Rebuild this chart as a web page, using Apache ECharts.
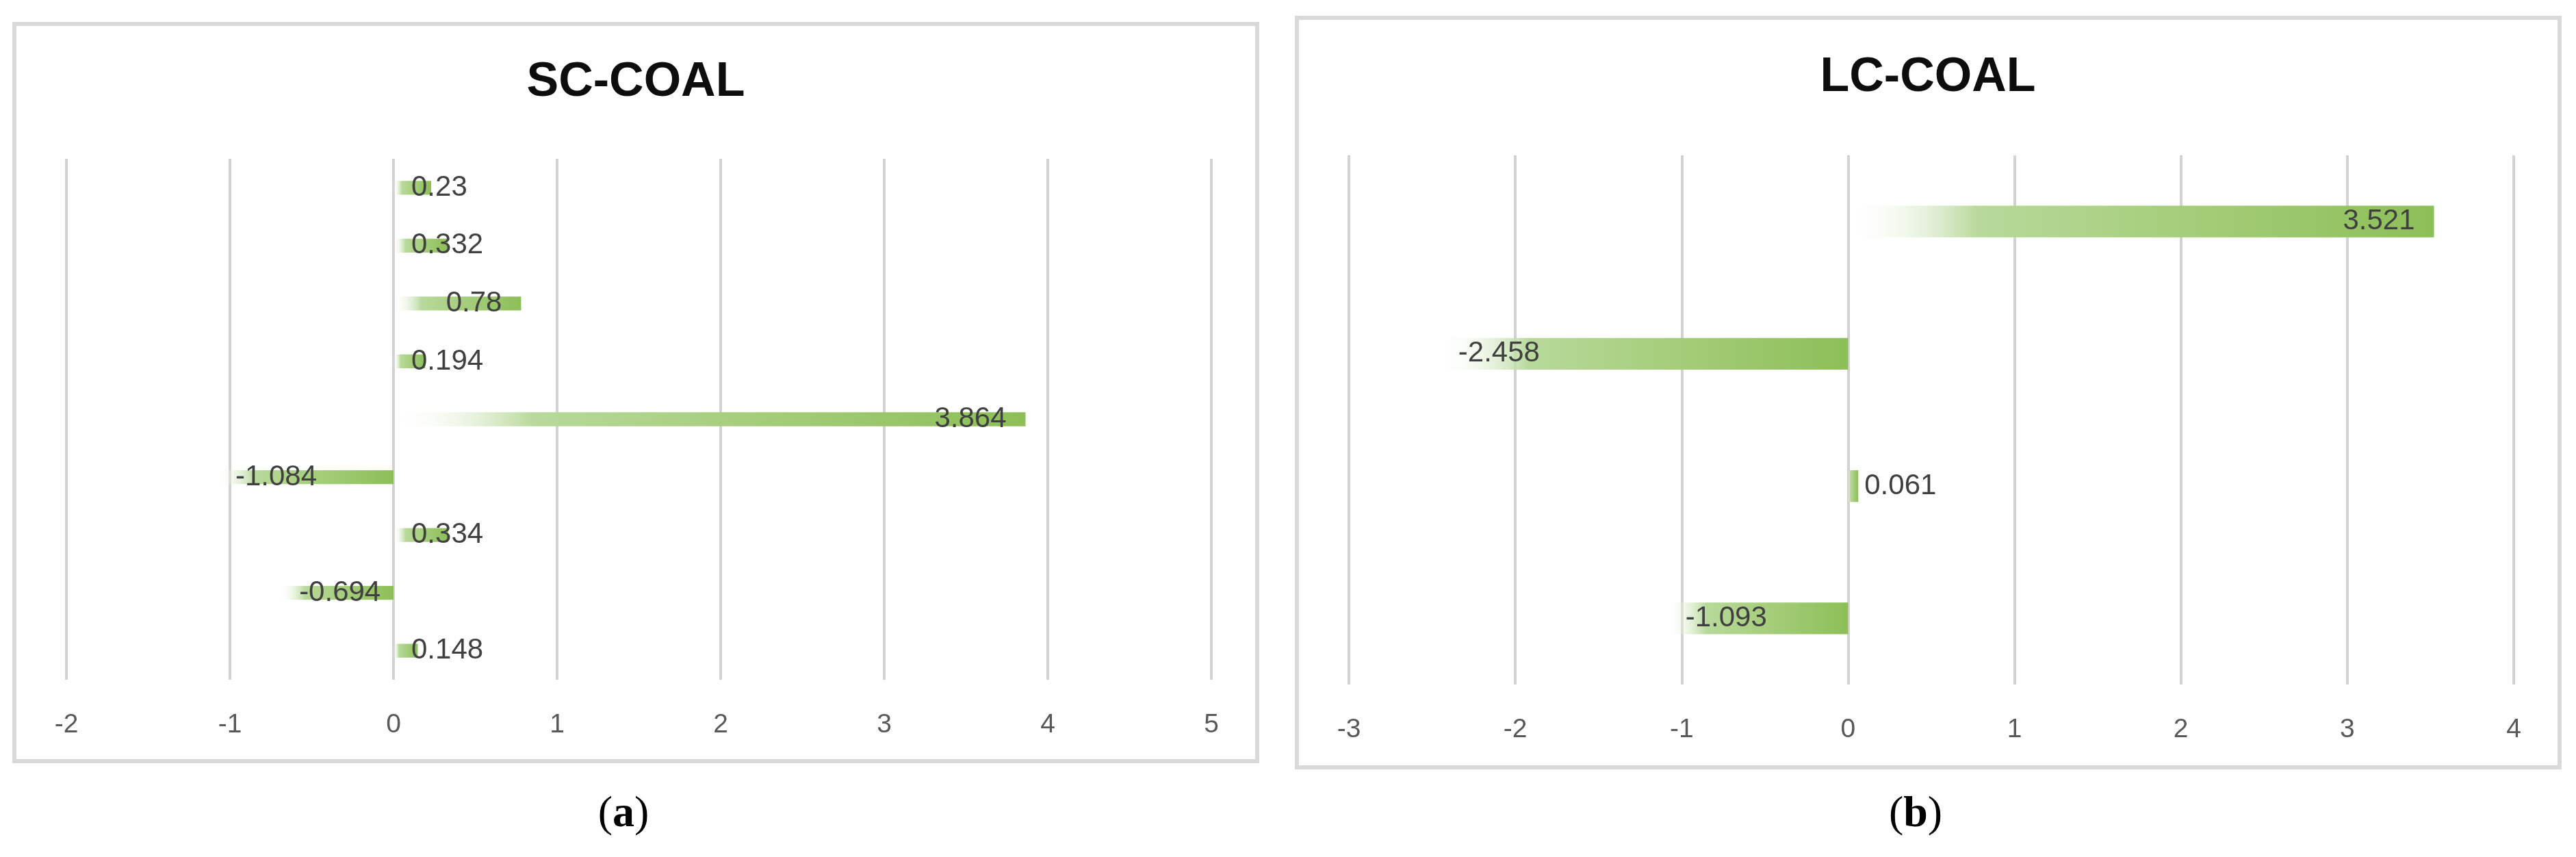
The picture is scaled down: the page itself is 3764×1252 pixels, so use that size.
<!DOCTYPE html>
<html lang="en">
<head>
  <meta charset="UTF-8">
  <title>SC-COAL / LC-COAL</title>
  <style>
    html, body {
      margin: 0;
      padding: 0;
      background: #fff;
    }

    #chart {
      width: 3764px;
      height: 1252px;
    }
  </style>
</head>
<body>
  <div id="chart"></div>

  <script src="https://cdn.jsdelivr.net/npm/echarts@6/dist/echarts.min.js"></script>
  <script>
    // 数据
    const scTitle = 'SC-COAL'
    const scValues = [0.23, 0.332, 0.78, 0.194, 3.864, -1.084, 0.334, -0.694, 0.148]
    const scTicks = [-2, -1, 0, 1, 2, 3, 4, 5]

    const lcTitle = 'LC-COAL'
    const lcValues = [3.521, -2.458, 0.061, -1.093]
    const lcTicks = [-3, -2, -1, 0, 1, 2, 3, 4]

    const captions = ['a', 'b']

    // 版面（像素）
    const panels = [
      {
        title: scTitle, values: scValues, ticks: scTicks,
        frame: [21, 35, 1816, 1077],
        grid: { left: 97, top: 232, width: 1673, height: 761 },
        cx: 929, titleY: 121, captionX: 911
      },
      {
        title: lcTitle, values: lcValues, ticks: lcTicks,
        frame: [1895, 26, 1845, 1095],
        grid: { left: 1971, top: 227, width: 1702, height: 773 },
        cx: 2817, titleY: 114, captionX: 2799
      }
    ]

    const chart = echarts.init(document.getElementById('chart'))

    function barColor () {
      return new echarts.graphic.LinearGradient(0, 0, 1, 0, [
        { offset: 0, color: 'rgba(255,255,255,0)' },
        { offset: 0.22, color: '#b8d99b' },
        { offset: 0.55, color: '#a6ce7c' },
        { offset: 1, color: '#8dbf58' }
      ])
    }

    // 标签位置：放得下就贴在柱子末端里面，太短就放在零线后面
    function barLabel (v) {
      if (v < 0) return { position: 'insideLeft', distance: 28 }
      if (v >= 0.5) return { position: 'insideRight', distance: 28 }
      if (v < 0.1) return { position: 'right', distance: 9 }
      return { position: 'insideLeft', distance: 26 }
    }

    function buildOption () {
      const grid = panels.map(p => Object.assign({ outerBoundsMode: 'none', containLabel: false }, p.grid))

      const xAxis = panels.map((p, i) => ({
        type: 'value',
        gridIndex: i,
        min: p.ticks[0],
        max: p.ticks[p.ticks.length - 1],
        interval: 1,
        axisLine: { show: false },
        axisTick: { show: false },
        splitLine: { show: true, lineStyle: { color: '#d2d2d2', width: 4 } },
        axisLabel: {
          color: '#595959',
          fontSize: 39,
          fontFamily: 'Liberation Sans',
          margin: 47
        }
      }))

      const yAxis = panels.map((p, i) => ({
        type: 'category',
        gridIndex: i,
        inverse: true,
        data: p.values.map((v, k) => String(k + 1)),
        axisLine: { show: false },
        axisTick: { show: false },
        axisLabel: { show: false },
        splitLine: { show: false }
      }))

      const series = panels.map((p, i) => ({
        type: 'bar',
        xAxisIndex: i,
        yAxisIndex: i,
        barWidth: '24%',
        itemStyle: { color: barColor() },
        label: {
          show: true,
          color: '#404040',
          fontSize: 42,
          fontFamily: 'Liberation Sans'
        },
        data: p.values.map(v => ({ value: v, label: barLabel(v) }))
      }))

      const title = panels.map(p => ({
        text: p.title,
        left: p.cx,
        top: p.titleY,
        textAlign: 'center',
        textVerticalAlign: 'middle',
        padding: 0,
        textStyle: {
          color: '#0d0d0d',
          fontSize: 70,
          fontWeight: 'bold',
          fontFamily: 'Liberation Sans'
        }
      }))

      const graphic = []
      panels.forEach((p, i) => {
        graphic.push({
          type: 'rect',
          shape: { x: p.frame[0], y: p.frame[1], width: p.frame[2], height: p.frame[3] },
          style: { fill: 'none', stroke: '#d9d9d9', lineWidth: 6 },
          z: -1
        })
        graphic.push({
          type: 'text',
          x: p.captionX,
          y: 1190,
          style: {
            text: '{p|(}{b|' + captions[i] + '}{p|)}',
            align: 'center',
            verticalAlign: 'middle',
            rich: {
              p: { fontSize: 64, fontFamily: 'Liberation Serif', fill: '#000' },
              b: { fontSize: 64, fontFamily: 'Liberation Serif', fontWeight: 'bold', fill: '#000' }
            }
          }
        })
      })

      return {
        animation: false,
        backgroundColor: '#fff',
        title,
        grid,
        xAxis,
        yAxis,
        series,
        graphic
      }
    }

    chart.setOption(buildOption())
  </script>
</body>
</html>
